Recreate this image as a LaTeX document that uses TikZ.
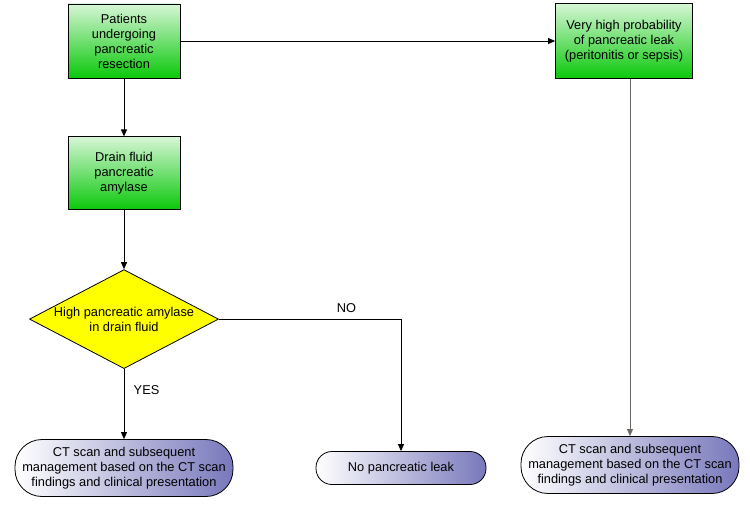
\documentclass[tikz,border=0pt]{standalone}
\usepackage{fontspec}
\setmainfont{Liberation Sans}
\usetikzlibrary{positioning, arrows.meta, shapes.geometric}
\definecolor{boxTop}{RGB}{214, 246, 214}
\definecolor{boxBottom}{RGB}{10, 200, 10}
\definecolor{termRight}{RGB}{120, 120, 188}
\definecolor{decision}{RGB}{255, 255, 0}
\definecolor{lineGray}{RGB}{110, 105, 100}

\begin{document}
\begin{tikzpicture}[>={Triangle[length=7pt, width=6pt]}, x=1pt, y=-1pt,
    font=\fontsize{12.8}{15}\selectfont,
    stepbox/.style={draw, line width=0.8pt, top color=boxTop, bottom color=boxBottom,
      align=center, inner sep=1pt},
    decbox/.style={draw, line width=0.8pt, diamond, fill=decision, aspect=1.9, align=center,
      inner sep=0pt, minimum width=189pt, minimum height=99pt},
    termbox/.style={draw, line width=0.8pt, rectangle, rounded corners=27pt, left color=white,
      right color=termRight, align=center, inner sep=0pt},
    conn/.style={->, line width=0.8pt}]
  \useasboundingbox (0,0) rectangle (750,508);

  % main column
  \node[stepbox, minimum width=112pt, minimum height=74pt] (patients) at (124,41)
    {Patients\\undergoing\\pancreatic\\resection};
  \node[stepbox, minimum width=112pt, minimum height=73pt, below=58pt of patients] (drain)
    {Drain fluid\\pancreatic\\amylase};
  \node[decbox, below=59pt of drain] (high) {High pancreatic amylase\\in drain fluid};
  \node[termbox, minimum width=218pt, minimum height=57pt] (ctleft) at (124,468)
    {CT scan and subsequent\\management based on the CT scan\\findings and clinical presentation};
  \node[termbox, rounded corners=16pt, minimum width=170pt, minimum height=33pt] (noleak)
    at (401,468) {No pancreatic leak};

  % right column
  \node[stepbox, minimum width=137pt, minimum height=75pt] (veryhigh) at (624,41)
    {Very high probability\\of pancreatic leak\\(peritonitis or sepsis)};
  \node[termbox, minimum width=218pt, minimum height=57pt] (ctright) at (630,465)
    {CT scan and subsequent\\management based on the CT scan\\findings and clinical presentation};

  \draw[conn] (patients) -- (veryhigh);
  \draw[conn] (patients) -- (drain);
  \draw[conn] (drain) -- (high);
  \draw[conn] (high.south) -- node[pos=0.3, right=6pt] {YES} (high.south |- ctleft.north);
  \draw[conn] (high.east) -| node[pos=0.35, above=3pt] {NO} (noleak.north);
  \draw[conn, lineGray] (veryhigh.south -| ctright.north) -- (ctright.north);
\end{tikzpicture}
\end{document}
